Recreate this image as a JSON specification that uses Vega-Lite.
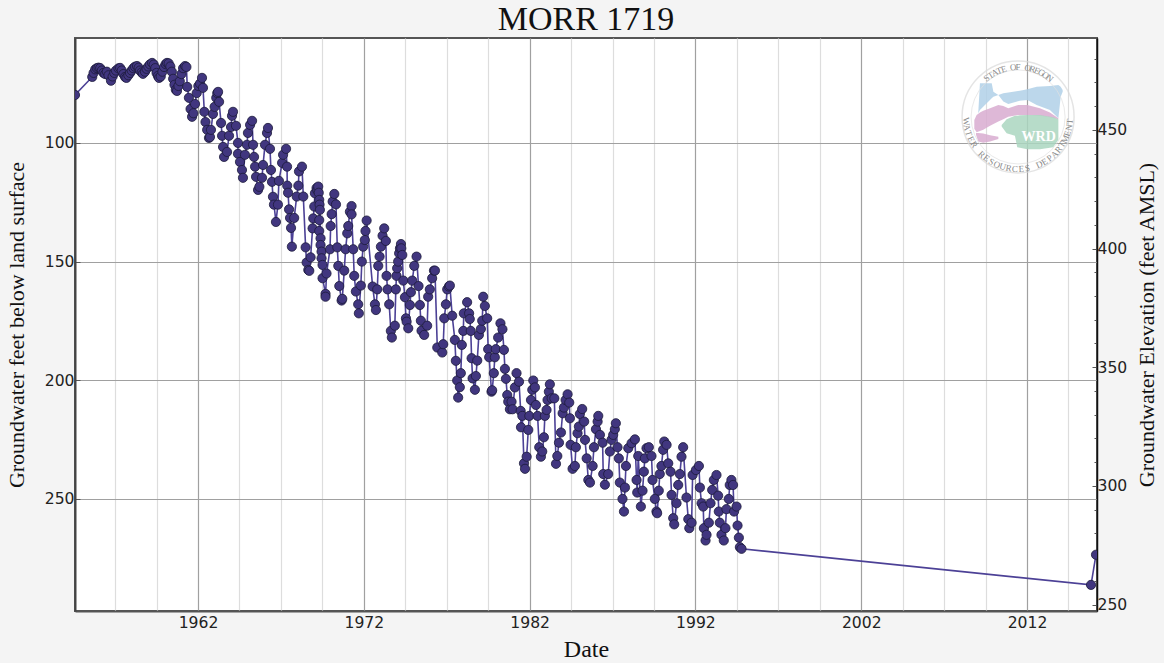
{"$schema":"https://vega.github.io/schema/vega-lite/v6.json","width":1022,"height":573,"autosize":"none","padding":{"left":75,"top":38,"right":67,"bottom":52},"background":"#f4f4f4","view":{"fill":"#ffffff","stroke":"#555555","strokeWidth":2},"title":{"text":"MORR 1719","font":"Liberation Serif","fontSize":34,"fontWeight":"normal","color":"#111111","anchor":"middle","offset":1},"datasets":{"series":[
{"d":1954.58,"v":79.8},{"d":1955.62,"v":72.2},{"d":1955.7,"v":70.5},{"d":1955.8,"v":69},{"d":1955.9,"v":68.5},{"d":1956.0,"v":68.3},{"d":1956.1,"v":68.5},{"d":1956.2,"v":69.5},{"d":1956.3,"v":70.5},{"d":1956.4,"v":71},{"d":1956.5,"v":70},{"d":1956.6,"v":71.5},{"d":1956.75,"v":73.8},{"d":1956.85,"v":72},{"d":1956.95,"v":70.5},{"d":1957.05,"v":69.5},{"d":1957.2,"v":68.6},{"d":1957.3,"v":68.4},{"d":1957.4,"v":69.5},{"d":1957.5,"v":71},{"d":1957.6,"v":72.2},{"d":1957.68,"v":72.6},{"d":1957.8,"v":71.5},{"d":1957.9,"v":70.5},{"d":1958.0,"v":69.5},{"d":1958.1,"v":68.5},{"d":1958.2,"v":67.9},{"d":1958.32,"v":67.6},{"d":1958.42,"v":68.3},{"d":1958.5,"v":69.5},{"d":1958.6,"v":70.3},{"d":1958.68,"v":70.9},{"d":1958.8,"v":70},{"d":1958.9,"v":68.8},{"d":1959.0,"v":67.8},{"d":1959.1,"v":66.9},{"d":1959.23,"v":66.3},{"d":1959.33,"v":67},{"d":1959.42,"v":68.5},{"d":1959.5,"v":70.5},{"d":1959.58,"v":71.8},{"d":1959.65,"v":72.6},{"d":1959.75,"v":72},{"d":1959.85,"v":70},{"d":1959.95,"v":68},{"d":1960.05,"v":66.8},{"d":1960.13,"v":66.3},{"d":1960.23,"v":66.5},{"d":1960.33,"v":67.8},{"d":1960.42,"v":70},{"d":1960.5,"v":73},{"d":1960.58,"v":75.5},{"d":1960.66,"v":77.6},{"d":1960.73,"v":78.1},{"d":1960.82,"v":76},{"d":1960.9,"v":74},{"d":1961.0,"v":71},{"d":1961.1,"v":68.5},{"d":1961.22,"v":67.6},{"d":1961.3,"v":68},{"d":1961.35,"v":76.4},{"d":1961.45,"v":81},{"d":1961.55,"v":85.7},{"d":1961.64,"v":89},{"d":1961.72,"v":87.5},{"d":1961.82,"v":83.6},{"d":1961.92,"v":79},{"d":1962.02,"v":76},{"d":1962.12,"v":75},{"d":1962.24,"v":72.6},{"d":1962.3,"v":76.8},{"d":1962.38,"v":86.9},{"d":1962.45,"v":91.2},{"d":1962.55,"v":94.5},{"d":1962.66,"v":97.9},{"d":1962.72,"v":97.5},{"d":1962.78,"v":94.5},{"d":1962.9,"v":87.8},{"d":1963.0,"v":84.8},{"d":1963.1,"v":81},{"d":1963.16,"v":79},{"d":1963.21,"v":78.5},{"d":1963.27,"v":82.7},{"d":1963.39,"v":91.6},{"d":1963.45,"v":97},{"d":1963.51,"v":101.7},{"d":1963.57,"v":105.9},{"d":1963.75,"v":103.8},{"d":1963.87,"v":97},{"d":1963.99,"v":93.3},{"d":1964.05,"v":88.6},{"d":1964.11,"v":86.9},{"d":1964.29,"v":92.8},{"d":1964.41,"v":100},{"d":1964.41,"v":104.6},{"d":1964.53,"v":108},{"d":1964.65,"v":111.4},{"d":1964.71,"v":114.7},{"d":1964.83,"v":105},{"d":1964.95,"v":100.8},{"d":1965.01,"v":95.8},{"d":1965.14,"v":92.4},{"d":1965.26,"v":90.7},{"d":1965.32,"v":100.8},{"d":1965.38,"v":105.9},{"d":1965.44,"v":110},{"d":1965.5,"v":114.3},{"d":1965.62,"v":119.8},{"d":1965.7,"v":118.5},{"d":1965.86,"v":114.7},{"d":1965.92,"v":109.3},{"d":1966.04,"v":100.8},{"d":1966.16,"v":95.8},{"d":1966.22,"v":93.7},{"d":1966.34,"v":102.5},{"d":1966.4,"v":111.4},{"d":1966.46,"v":116.4},{"d":1966.52,"v":122.7},{"d":1966.58,"v":126},{"d":1966.7,"v":133.3},{"d":1966.82,"v":126},{"d":1966.88,"v":116},{"d":1967.07,"v":108.4},{"d":1967.13,"v":105},{"d":1967.31,"v":102.5},{"d":1967.37,"v":110},{"d":1967.38,"v":118},{"d":1967.43,"v":121},{"d":1967.49,"v":128},{"d":1967.55,"v":131.6},{"d":1967.61,"v":135.8},{"d":1967.66,"v":143.7},{"d":1967.8,"v":131.6},{"d":1967.95,"v":122.6},{"d":1968.05,"v":118},{"d":1968.09,"v":112},{"d":1968.27,"v":110},{"d":1968.35,"v":122.6},{"d":1968.49,"v":144},{"d":1968.55,"v":150.4},{"d":1968.65,"v":153.5},{"d":1968.71,"v":153.9},{"d":1968.79,"v":148.2},{"d":1968.91,"v":136},{"d":1968.95,"v":131.8},{"d":1969.01,"v":126.8},{"d":1969.05,"v":121.2},{"d":1969.15,"v":119},{"d":1969.2,"v":120},{"d":1969.25,"v":118.4},{"d":1969.28,"v":121},{"d":1969.31,"v":124},{"d":1969.33,"v":126},{"d":1969.35,"v":128.2},{"d":1969.31,"v":132.5},{"d":1969.31,"v":137.1},{"d":1969.39,"v":140.2},{"d":1969.39,"v":143},{"d":1969.45,"v":145.8},{"d":1969.45,"v":148.6},{"d":1969.51,"v":151.4},{"d":1969.51,"v":157},{"d":1969.69,"v":163.6},{"d":1969.69,"v":164.8},{"d":1969.75,"v":155},{"d":1969.96,"v":144.8},{"d":1970.0,"v":135},{"d":1970.06,"v":130},{"d":1970.12,"v":124.7},{"d":1970.22,"v":121.5},{"d":1970.32,"v":125.9},{"d":1970.4,"v":144},{"d":1970.46,"v":151.8},{"d":1970.52,"v":160.3},{"d":1970.66,"v":166.4},{"d":1970.7,"v":165.7},{"d":1970.82,"v":153.8},{"d":1970.9,"v":144.8},{"d":1971.0,"v":138.1},{"d":1971.06,"v":135},{"d":1971.16,"v":129},{"d":1971.26,"v":126.6},{"d":1971.26,"v":130.1},{"d":1971.36,"v":144.8},{"d":1971.42,"v":156},{"d":1971.52,"v":162.6},{"d":1971.66,"v":168},{"d":1971.7,"v":171.8},{"d":1971.82,"v":160.1},{"d":1971.88,"v":150},{"d":1971.96,"v":143.7},{"d":1972.06,"v":140.9},{"d":1972.1,"v":137.1},{"d":1972.17,"v":132.7},{"d":1972.53,"v":160.5},{"d":1972.67,"v":168},{"d":1972.73,"v":170.4},{"d":1972.81,"v":161.7},{"d":1972.87,"v":151.8},{"d":1972.95,"v":147.9},{"d":1973.03,"v":143.7},{"d":1973.13,"v":139.1},{"d":1973.23,"v":136},{"d":1973.33,"v":141.3},{"d":1973.37,"v":156},{"d":1973.43,"v":161.7},{"d":1973.53,"v":168},{"d":1973.63,"v":179.2},{"d":1973.69,"v":182},{"d":1973.87,"v":177},{"d":1973.93,"v":161.7},{"d":1973.97,"v":156},{"d":1974.01,"v":152.8},{"d":1974.07,"v":150},{"d":1974.13,"v":146.5},{"d":1974.18,"v":144.4},{"d":1974.24,"v":142.6},{"d":1974.26,"v":144.4},{"d":1974.32,"v":147.2},{"d":1974.38,"v":158},{"d":1974.48,"v":165},{"d":1974.54,"v":173.9},{"d":1974.58,"v":175.3},{"d":1974.68,"v":178.1},{"d":1974.78,"v":168.3},{"d":1974.84,"v":162.9},{"d":1974.92,"v":158},{"d":1975.04,"v":151.8},{"d":1975.18,"v":147.9},{"d":1975.3,"v":160.3},{"d":1975.38,"v":168.3},{"d":1975.44,"v":174.9},{"d":1975.48,"v":179.1},{"d":1975.64,"v":180.9},{"d":1975.82,"v":177},{"d":1975.88,"v":164.8},{"d":1975.98,"v":161.7},{"d":1976.12,"v":157},{"d":1976.23,"v":153.8},{"d":1976.29,"v":153.8},{"d":1976.43,"v":186.2},{"d":1976.73,"v":188.3},{"d":1976.79,"v":184.8},{"d":1976.85,"v":173.9},{"d":1976.95,"v":168},{"d":1977.03,"v":161.7},{"d":1977.13,"v":160.5},{"d":1977.19,"v":160.1},{"d":1977.33,"v":172.8},{"d":1977.49,"v":183},{"d":1977.55,"v":191.8},{"d":1977.63,"v":200.1},{"d":1977.69,"v":207.3},{"d":1977.79,"v":202.9},{"d":1977.85,"v":197},{"d":1977.91,"v":185.1},{"d":1978.0,"v":179.2},{"d":1978.03,"v":171.8},{"d":1978.23,"v":167.1},{"d":1978.35,"v":171.8},{"d":1978.39,"v":174.2},{"d":1978.45,"v":179.2},{"d":1978.5,"v":190.7},{"d":1978.56,"v":199.2},{"d":1978.7,"v":204},{"d":1978.76,"v":198.2},{"d":1978.84,"v":191.7},{"d":1978.94,"v":180.9},{"d":1979.06,"v":178.4},{"d":1979.14,"v":174.9},{"d":1979.2,"v":164.8},{"d":1979.3,"v":168.7},{"d":1979.44,"v":173.9},{"d":1979.5,"v":186.9},{"d":1979.56,"v":190.3},{"d":1979.7,"v":204.8},{"d":1979.74,"v":204.2},{"d":1979.84,"v":197},{"d":1979.9,"v":190.3},{"d":1979.96,"v":186.9},{"d":1980.1,"v":182},{"d":1980.24,"v":176},{"d":1980.36,"v":178.5},{"d":1980.45,"v":187.2},{"d":1980.51,"v":195.2},{"d":1980.57,"v":199.4},{"d":1980.65,"v":206.2},{"d":1980.71,"v":209},{"d":1980.81,"v":212.2},{"d":1980.91,"v":209},{"d":1980.97,"v":212.2},{"d":1981.11,"v":203},{"d":1981.21,"v":197},{"d":1981.36,"v":200.6},{"d":1981.46,"v":212.9},{"d":1981.48,"v":219.8},{"d":1981.56,"v":215},{"d":1981.66,"v":235},{"d":1981.72,"v":237.3},{"d":1981.82,"v":232.2},{"d":1981.92,"v":220.9},{"d":1981.98,"v":215},{"d":1982.08,"v":208.3},{"d":1982.16,"v":204},{"d":1982.22,"v":200.1},{"d":1982.32,"v":203},{"d":1982.38,"v":210.4},{"d":1982.48,"v":215},{"d":1982.58,"v":228.2},{"d":1982.68,"v":232.2},{"d":1982.76,"v":230},{"d":1982.86,"v":224},{"d":1982.92,"v":215},{"d":1983.02,"v":212.5},{"d":1983.08,"v":208.3},{"d":1983.16,"v":204.8},{"d":1983.22,"v":201.7},{"d":1983.33,"v":207.6},{"d":1983.49,"v":207.6},{"d":1983.59,"v":235.2},{"d":1983.67,"v":231.9},{"d":1983.77,"v":226.3},{"d":1983.89,"v":222},{"d":1983.99,"v":213.9},{"d":1984.07,"v":211.5},{"d":1984.17,"v":208.3},{"d":1984.29,"v":205.9},{"d":1984.39,"v":209.4},{"d":1984.43,"v":216},{"d":1984.47,"v":227.2},{"d":1984.59,"v":237.3},{"d":1984.73,"v":236.1},{"d":1984.79,"v":228.2},{"d":1984.89,"v":222.3},{"d":1984.97,"v":219.5},{"d":1985.03,"v":214.2},{"d":1985.17,"v":212.1},{"d":1985.29,"v":217.4},{"d":1985.34,"v":225.1},{"d":1985.44,"v":232.9},{"d":1985.54,"v":242},{"d":1985.64,"v":243.1},{"d":1985.8,"v":236.1},{"d":1985.88,"v":228.2},{"d":1986.0,"v":220.6},{"d":1986.1,"v":217.4},{"d":1986.14,"v":215},{"d":1986.24,"v":223},{"d":1986.4,"v":226.3},{"d":1986.44,"v":239.5},{"d":1986.54,"v":244},{"d":1986.74,"v":239.5},{"d":1986.84,"v":230},{"d":1986.94,"v":225.1},{"d":1987.04,"v":223},{"d":1987.14,"v":220.6},{"d":1987.2,"v":218.1},{"d":1987.3,"v":228.2},{"d":1987.38,"v":232.9},{"d":1987.44,"v":243.1},{"d":1987.6,"v":250},{"d":1987.69,"v":255.3},{"d":1987.75,"v":245.2},{"d":1987.81,"v":236.1},{"d":1987.95,"v":228.6},{"d":1988.15,"v":226.5},{"d":1988.35,"v":224.9},{"d":1988.45,"v":242},{"d":1988.49,"v":247.3},{"d":1988.55,"v":231.9},{"d":1988.71,"v":253.2},{"d":1988.81,"v":246.5},{"d":1988.89,"v":238.5},{"d":1988.95,"v":232.9},{"d":1989.05,"v":228.6},{"d":1989.19,"v":228.2},{"d":1989.35,"v":231.9},{"d":1989.41,"v":242},{"d":1989.55,"v":250},{"d":1989.65,"v":255.3},{"d":1989.69,"v":256},{"d":1989.79,"v":246.5},{"d":1989.85,"v":239.5},{"d":1989.95,"v":236.1},{"d":1990.05,"v":229.3},{"d":1990.12,"v":225.8},{"d":1990.26,"v":227.2},{"d":1990.36,"v":235},{"d":1990.5,"v":238.5},{"d":1990.56,"v":248.3},{"d":1990.66,"v":258.1},{"d":1990.72,"v":260.7},{"d":1990.86,"v":251.8},{"d":1990.96,"v":244.1},{"d":1991.06,"v":239.5},{"d":1991.16,"v":232.2},{"d":1991.26,"v":228.2},{"d":1991.46,"v":249.4},{"d":1991.57,"v":258.5},{"d":1991.63,"v":262.3},{"d":1991.77,"v":260},{"d":1991.83,"v":239.9},{"d":1992.03,"v":237.8},{"d":1992.21,"v":236.1},{"d":1992.27,"v":245.2},{"d":1992.37,"v":251.8},{"d":1992.47,"v":253.2},{"d":1992.51,"v":262.3},{"d":1992.61,"v":267.5},{"d":1992.67,"v":265.1},{"d":1992.81,"v":260},{"d":1992.91,"v":251.8},{"d":1993.01,"v":246.2},{"d":1993.11,"v":242},{"d":1993.27,"v":239.9},{"d":1993.37,"v":248.6},{"d":1993.41,"v":255.3},{"d":1993.47,"v":260},{"d":1993.57,"v":265.1},{"d":1993.71,"v":267.5},{"d":1993.81,"v":262.3},{"d":1993.87,"v":254.3},{"d":1994.01,"v":250},{"d":1994.07,"v":244.1},{"d":1994.17,"v":242},{"d":1994.27,"v":244.1},{"d":1994.33,"v":255.3},{"d":1994.48,"v":253.2},{"d":1994.54,"v":261.2},{"d":1994.62,"v":266.3},{"d":1994.68,"v":270.3},{"d":1994.78,"v":271},{"d":2015.86,"v":286.2},{"d":2016.16,"v":273.5}],
"logoShape":[
{"p":"a","d":2009.06,"t":87,"b":87.5},{"p":"a","d":2009.16,"t":74.9,"b":86.1},{"p":"a","d":2009.87,"t":74.9,"b":81.2},{"p":"a","d":2009.97,"t":78.4,"b":80.5},{"p":"a","d":2010.27,"t":79.8,"b":79.8},{"p":"a","d":2010.57,"t":79.1,"b":82.6},{"p":"a","d":2010.87,"t":78.8,"b":83.6},{"p":"a","d":2011.57,"t":78,"b":82.2},{"p":"a","d":2012.02,"t":77.4,"b":81.9},{"p":"a","d":2012.58,"t":76.3,"b":84},{"p":"a","d":2013.38,"t":76,"b":86.1},{"p":"a","d":2013.89,"t":75.6,"b":89.6},{"p":"a","d":2014.03,"t":76.3,"b":80.5},{"p":"a","d":2014.15,"t":77.7,"b":78.4},
{"p":"b","d":2008.82,"t":90.3,"b":94},{"p":"b","d":2008.96,"t":88.2,"b":95.5},{"p":"b","d":2009.16,"t":87.2,"b":95},{"p":"b","d":2009.36,"t":86.5,"b":94.5},{"p":"b","d":2009.77,"t":85.4,"b":92.8},{"p":"b","d":2010.27,"t":84,"b":91},{"p":"b","d":2010.57,"t":84.4,"b":90},{"p":"b","d":2010.87,"t":85.4,"b":89},{"p":"b","d":2011.47,"t":84,"b":88.2},{"p":"b","d":2012.02,"t":84,"b":88.2},{"p":"b","d":2012.78,"t":85.4,"b":88.6},{"p":"b","d":2013.38,"t":87.2,"b":89.2},{"p":"b","d":2013.89,"t":89.6,"b":90},
{"p":"c","d":2008.92,"t":95.8,"b":96.6},{"p":"c","d":2009.06,"t":95.8,"b":99.4},{"p":"c","d":2009.36,"t":96,"b":99.9},{"p":"c","d":2009.77,"t":96.8,"b":99.4},{"p":"c","d":2010.27,"t":97.4,"b":98.4},
{"p":"d","d":2010.47,"t":92.4,"b":93.1},{"p":"d","d":2010.77,"t":90,"b":95.9},{"p":"d","d":2011.27,"t":88.6,"b":97},{"p":"d","d":2011.41,"t":88.6,"b":101.8},{"p":"d","d":2011.57,"t":88.3,"b":102},{"p":"d","d":2012.02,"t":88.2,"b":102.7},{"p":"d","d":2012.78,"t":88.2,"b":102.7},{"p":"d","d":2013.58,"t":89.2,"b":101.8},{"p":"d","d":2013.89,"t":90,"b":98.7}],
"logoRing":[{"d":2011.46,"v":89.05}],
"logoTop":[{"d":2009.56,"v":72.7,"c":"S","a":-39},{"d":2009.8,"v":71.5,"c":"T","a":-33},{"d":2010.05,"v":70.4,"c":"A","a":-28},{"d":2010.32,"v":69.6,"c":"T","a":-22},{"d":2010.59,"v":68.9,"c":"E","a":-17},{"d":2011.16,"v":68.1,"c":"O","a":-6},{"d":2011.46,"v":68,"c":"F","a":0},{"d":2012.04,"v":68.4,"c":"O","a":11},{"d":2012.33,"v":68.9,"c":"R","a":17},{"d":2012.6,"v":69.6,"c":"E","a":22},{"d":2012.87,"v":70.4,"c":"G","a":28},{"d":2013.12,"v":71.5,"c":"O","a":33},{"d":2013.36,"v":72.7,"c":"N","a":39},
{"d":2008.34,"v":91,"c":"W","a":85},{"d":2008.39,"v":93.5,"c":"A","a":78},{"d":2008.49,"v":96,"c":"T","a":71},{"d":2008.63,"v":98.4,"c":"E","a":65},{"d":2008.81,"v":100.7,"c":"R","a":58},{"d":2009.27,"v":104.8,"c":"R","a":44},{"d":2009.56,"v":106.4,"c":"E","a":37},{"d":2009.86,"v":107.9,"c":"S","a":31},{"d":2010.19,"v":109.1,"c":"O","a":24},{"d":2010.54,"v":110,"c":"U","a":17},{"d":2010.9,"v":110.6,"c":"R","a":10},{"d":2011.27,"v":110.9,"c":"C","a":3},{"d":2011.65,"v":110.9,"c":"E","a":-3},{"d":2012.02,"v":110.6,"c":"S","a":-10},{"d":2012.73,"v":109.1,"c":"D","a":-24},{"d":2013.06,"v":107.9,"c":"E","a":-31},{"d":2013.36,"v":106.4,"c":"P","a":-37},{"d":2013.65,"v":104.8,"c":"A","a":-44},{"d":2013.9,"v":102.8,"c":"R","a":-51},{"d":2014.11,"v":100.7,"c":"T","a":-58},{"d":2014.29,"v":98.4,"c":"M","a":-65},{"d":2014.43,"v":96,"c":"E","a":-71},{"d":2014.53,"v":93.5,"c":"N","a":-78},{"d":2014.58,"v":91,"c":"T","a":-85}],
"logoLabel":[{"d":2012.7,"v":97.5,"c":"WRD"}],
"elev":[{"e":250},{"e":450}]},
"layer":[{"layer":[
{"data":{"name":"logoShape"},"mark":{"type":"area","opacity":0.85,"interpolate":"linear"},"encoding":{"x":{"field":"d","type":"quantitative","scale":{"domain":[1954.58,2016.22],"nice":false,"zero":false},"axis":{"title":"Date","titleFont":"Liberation Serif","titleFontSize":24,"titleFontWeight":"normal","titleColor":"#111111","titlePadding":7,"values":[1957,1959.5,1962,1964.5,1967,1969.5,1972,1974.5,1977,1979.5,1982,1984.5,1987,1989.5,1992,1994.5,1997,1999.5,2002,2004.5,2007,2009.5,2012,2014.5],"format":"d","labelExpr":"datum.value%10==2 ? datum.label : ''","labelOverlap":false,"labelFont":"DejaVu Sans","labelFontSize":15.6,"labelColor":"#222222","labelPadding":4,"tickSize":0,"domainColor":"#555555","domainWidth":2,"grid":true,"gridColor":{"condition":{"test":"datum.value%10==2","value":"#a0a0a0"},"value":"#dddddd"},"gridWidth":1.2}},"y":{"field":"t","type":"quantitative","scale":{"domain":[297.2,55.8],"nice":false,"zero":false},"axis":{"title":"Groundwater feet below land surface","titleFont":"Liberation Serif","titleFontSize":22,"titleFontWeight":"normal","titleColor":"#111111","titlePadding":16,"values":[100,150,200,250],"labelFont":"DejaVu Sans","labelFontSize":15.6,"labelColor":"#222222","labelPadding":6,"tickSize":-5,"tickColor":"#555555","domainColor":"#444444","domainWidth":2,"grid":true,"gridColor":"#a0a0a0","gridWidth":1}},"y2":{"field":"b"},"color":{"field":"p","type":"nominal","legend":null,"scale":{"domain":["a","b","c","d"],"range":["#b0d0e8","#d8acd0","#d8acd0","#aad6c0"]}}}},
{"data":{"name":"logoRing"},"mark":{"type":"point","size":12544,"filled":false,"stroke":"#dadada","strokeWidth":1.5},"encoding":{"x":{"field":"d","type":"quantitative"},"y":{"field":"v","type":"quantitative"}}},
{"data":{"name":"logoRing"},"mark":{"type":"point","size":8836,"filled":false,"stroke":"#e2e2e2","strokeWidth":1},"encoding":{"x":{"field":"d","type":"quantitative"},"y":{"field":"v","type":"quantitative"}}},
{"data":{"name":"logoTop"},"mark":{"type":"text","font":"Liberation Serif","fontSize":9,"color":"#8a8a8a","baseline":"middle"},"encoding":{"x":{"field":"d","type":"quantitative"},"y":{"field":"v","type":"quantitative"},"text":{"field":"c"},"angle":{"field":"a","type":"quantitative","scale":null}}},
{"data":{"name":"logoLabel"},"mark":{"type":"text","font":"Liberation Serif","fontSize":14,"fontWeight":"bold","color":"#ffffff"},"encoding":{"x":{"field":"d","type":"quantitative"},"y":{"field":"v","type":"quantitative"},"text":{"field":"c"}}},
{"data":{"name":"series"},"mark":{"type":"line","color":"#4c4196","strokeWidth":1.6,"clip":true},"encoding":{"x":{"field":"d","type":"quantitative"},"y":{"field":"v","type":"quantitative"},"order":null}},
{"data":{"name":"series"},"transform":[{"filter":"datum.d<2000 || datum.d>2015"}],"mark":{"type":"circle","size":85,"color":"#41367f","opacity":1,"stroke":"#1c1a3a","strokeWidth":0.8,"clip":true},"encoding":{"x":{"field":"d","type":"quantitative"},"y":{"field":"v","type":"quantitative"}}}
]},
{"data":{"name":"elev"},"mark":{"type":"point","opacity":0},"encoding":{"y":{"field":"e","type":"quantitative","scale":{"domain":[247.3,488.7],"nice":false,"zero":false},"axis":{"orient":"right","title":"Groundwater Elevation (feet AMSL)","titleFont":"Liberation Serif","titleFontSize":22,"titleFontWeight":"normal","titleColor":"#111111","titlePadding":32,"titleAngle":-90,"titleBaseline":"bottom","values":[250,260,270,280,290,300,310,320,330,340,350,360,370,380,390,400,410,420,430,440,450,460,470,480],"labelExpr":"datum.value%50==0 ? datum.label : ''","labelOverlap":false,"labelFont":"DejaVu Sans","labelFontSize":15.6,"labelColor":"#222222","labelPadding":5,"tickSize":{"condition":{"test":"datum.value%50==0","value":-5},"value":-3},"tickColor":"#555555","domainColor":"#111111","domainWidth":1.5,"grid":false}}}}
],"resolve":{"scale":{"y":"independent"}}}
